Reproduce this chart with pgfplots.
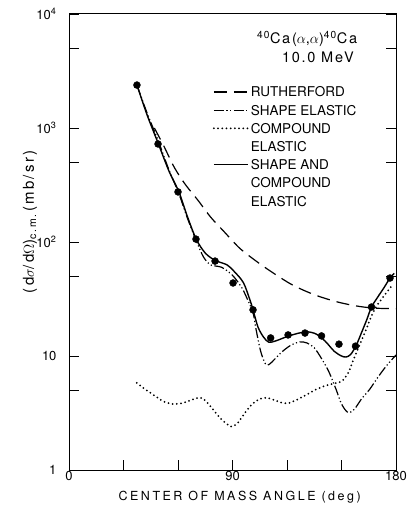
\documentclass[border=0pt]{standalone}
\usepackage{fontspec}
\setmainfont{TeX Gyre Heros}
\newfontfamily\xspaced{TeX Gyre Heros}[LetterSpace=20]
\newfontfamily\yspaced{TeX Gyre Heros}[LetterSpace=15]
\newfontfamily\tspaced{TeX Gyre Heros}[LetterSpace=12]
\usepackage{pgfplots}
\pgfplotsset{compat=1.18}
\tikzset{
  ruthst/.style={black, line width=1.2pt, dash pattern=on 13pt off 7pt},
  shapest/.style={black, line width=1.2pt, dash pattern=on 10pt off 2.5pt on 1.2pt off 2.5pt on 1.2pt off 2.5pt},
  compst/.style={black, line width=2pt, line cap=round, dash pattern=on 0pt off 4.2pt},
  bothst/.style={black, line width=1.4pt},
}
\begin{document}
\begin{tikzpicture}
\useasboundingbox (-69pt,-48pt) rectangle (340pt,470pt);
\begin{axis}[
  scale only axis, width=327pt, height=456pt,
  ymode=log, xmin=0, xmax=180, ymin=1, ymax=10000,
  xtick={0,30,60,90,120,150,180}, xticklabels={0,,,90,,,180},
  ytick={1,10,100,1000,10000},
  yticklabels={1,10,10\textsuperscript{2},10\textsuperscript{3},10\textsuperscript{4}},
  minor ytick={5,50,500,5000},
  tick align=inside, xtick pos=left, ytick pos=both,
  major tick length=10pt, minor tick length=10pt,
  tick style={black, line width=0.9pt},
  axis line style={line width=1pt},
  /pgf/number format/assume math mode=true,
  ticklabel style={font=\fontsize{13}{15}\selectfont},
  xticklabel style={yshift=2pt},
  yticklabel style={xshift=-9pt},
  xlabel={CENTER OF MASS ANGLE (deg)},
  every axis x label/.style={at={(axis description cs:0.522,0)}, yshift=-27pt, anchor=center, font=\xspaced\fontsize{12.5}{15}\selectfont},
  ylabel={(d$\sigma$/d$\Omega$)\textsubscript{c.m.}\,(mb/sr)},
  every axis y label/.style={at={(axis description cs:-0.119,0.544)}, rotate=90, anchor=center, font=\yspaced\fontsize{15}{18}\selectfont},
  legend style={draw=none, fill=none, at={(axis description cs:0.44,0.84)}, anchor=north west,
    inner sep=0pt, outer sep=0pt, row sep=8.2pt, column sep=2pt,
    font=\fontsize{13.5}{16}\selectfont,
    nodes={inner sep=0pt, text height=10pt, text depth=0pt}},
  legend cell align=left,
  legend image code/.code={\draw[#1] (0pt,0pt) -- (34pt,0pt);},
]
% Rutherford
\addplot[ruthst, smooth, forget plot] coordinates {
(47,1000) (52,705) (58,450) (64,320) (71,232) (78,165) (85,125) (94,88)
(103,68) (112,54) (123,42) (135,34.5) (147,30) (158,27.5) (168,26.3) (180,26)
};
% Compound elastic
\addplot[compst, smooth, forget plot] coordinates {
(37.3,5.8) (42,5.1) (47,4.5) (52,4.0) (57,3.8) (62,3.85) (67,4.1) (71,4.3)
(74,4.2) (78,3.6) (82,3.0) (86,2.6) (89.5,2.4) (93,2.6) (97,3.2) (101,3.8)
(105,4.2) (109,4.3) (113,4.1) (117,3.9) (120.5,3.85) (125,4.1) (130,4.5)
(135,5.0) (140,5.4) (145,5.7) (150,6.0) (153.5,7.0) (156.5,9.2) (160,12.5)
(163.5,17) (166,21.5) (169,27) (173,33) (177,40) (178.5,43)
};
% Shape elastic
\addplot[shapest, smooth, forget plot] coordinates {
(37.4,2380) (43,1350) (49,780) (55,430) (60.5,265) (65,165) (70,103) (74,74)
(78,63) (84,60) (90,51) (95,40) (98,32) (101.3,24) (103,17) (105.5,11)
(108,8.6) (110,8.4) (113,9.3) (117,10.8) (122,12.4) (127,13.3) (131,13)
(135,11.8) (139,9.5) (143,7.3) (147,5.1) (150,3.8) (153.5,3.2) (157,3.4)
(161,4.2) (165.5,5.1) (170,6.5) (175,8.3) (180,10.2)
};
% Shape and compound elastic
\addplot[bothst, smooth, forget plot] coordinates {
(37.4,2380) (43,1300) (49,740) (55,420) (60.5,275) (65,170) (70,106) (75,80)
(80.4,69) (87,63) (91,55) (96,44) (99.6,31) (101.3,25.4) (104,18) (107,14.7)
(110,13.2) (114,13.6) (120,14.8) (126,15.8) (131,16.3) (136,15.6) (141,13.5)
(146,11) (150,10) (152.5,9.8) (155,10.3) (158,12.3) (161,16) (164,21)
(166.5,26.9) (170,33) (173.5,40) (176.7,48.3) (179,53)
};
% Experimental data
\addplot[only marks, mark=*, mark size=3.5pt, black, forget plot] coordinates {
(37.4,2380) (49,724) (60,275) (69.9,106) (80.4,68) (90.3,43.7) (101.3,25.4)
(111,14.4) (120.6,15.3) (129.9,15.9) (139,15) (148.6,12.7) (157.7,12.2)
(166.5,26.9) (176.7,48.3)
};
\addlegendimage{ruthst}\addlegendentry{RUTHERFORD}
\addlegendimage{shapest}\addlegendentry{SHAPE ELASTIC}
\addlegendimage{compst}\addlegendentry{COMPOUND}
\addlegendimage{empty legend}\addlegendentry{ELASTIC}
\addlegendimage{bothst}\addlegendentry{SHAPE AND}
\addlegendimage{empty legend}\addlegendentry{COMPOUND}
\addlegendimage{empty legend}\addlegendentry{ELASTIC}
\node[font=\tspaced\fontsize{14.5}{16}\selectfont] at (axis description cs:0.728,0.945)
  {\textsuperscript{40}Ca($\alpha$,$\alpha$)\textsuperscript{40}Ca};
\node[font=\tspaced\fontsize{14.5}{16}\selectfont] at (axis description cs:0.761,0.905)
  {10.0 MeV};
\end{axis}
\end{tikzpicture}
\end{document}
